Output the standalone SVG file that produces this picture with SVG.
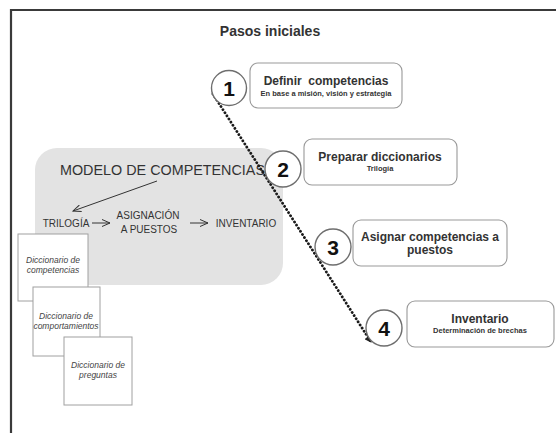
<svg xmlns="http://www.w3.org/2000/svg" width="556" height="433" viewBox="0 0 556 433">
<style>
text{font-family:"Liberation Sans",Arial,sans-serif;}
.frame{fill:none;stroke:#3a3a3a;stroke-width:2.2;}
.title{font-size:14px;font-weight:bold;fill:#333;text-anchor:middle;}
.circ{fill:#fff;stroke:#6e6e6e;stroke-width:1.4;}
.num{font-size:21px;font-weight:bold;fill:#111;text-anchor:middle;}
.box{fill:#fff;stroke:#999;stroke-width:1.1;}
.bt{font-size:12px;font-weight:bold;fill:#333;text-anchor:middle;}
.bs{font-size:7.5px;font-weight:bold;fill:#333;text-anchor:middle;}
.model{fill:#e3e3e3;}
.mt{font-size:10px;fill:#333;text-anchor:middle;}
.dict{fill:#fff;stroke:#a0a0a0;stroke-width:1;}
.dt{font-size:8.5px;font-style:italic;fill:#444;text-anchor:middle;}
.thin{stroke:#333;stroke-width:1;fill:none;}
</style>
<defs>
<marker id="ah" markerWidth="8" markerHeight="8" refX="6" refY="4" orient="auto" markerUnits="userSpaceOnUse">
<path d="M0,0 L7,4 L0,8 Z" fill="#222"/>
</marker>
<marker id="oh" markerWidth="10" markerHeight="8" refX="8" refY="4" orient="auto" markerUnits="userSpaceOnUse">
<path d="M0,0.5 L8,4 L0,7.5" fill="none" stroke="#333" stroke-width="1"/>
</marker>
</defs>
<rect width="556" height="433" fill="#fff"/>
<path class="frame" d="M11,433 L11,10 L556,10"/>
<text class="title" x="270" y="36">Pasos iniciales</text>

<g id="modelo">
<rect class="model" x="35" y="148" width="248" height="137" rx="22"/>
<text x="60" y="175" font-size="15" fill="#333" textLength="205" lengthAdjust="spacingAndGlyphs">MODELO DE COMPETENCIAS</text>
<text class="mt" x="66" y="227">TRILOGÍA</text>
<text class="mt" x="148" y="219">ASIGNACIÓN</text>
<text class="mt" x="149" y="233">A PUESTOS</text>
<text class="mt" x="246" y="227">INVENTARIO</text>
</g>

<g id="dicc1">
<rect class="dict" x="18" y="234" width="70" height="67"/>
<text class="dt" x="53" y="263">Diccionario de</text>
<text class="dt" x="53" y="273">competencias</text>
</g>
<g id="dicc2">
<rect class="dict" x="33" y="287" width="67" height="69"/>
<text class="dt" x="66" y="319">Diccionario de</text>
<text class="dt" x="66" y="329">comportamientos</text>
</g>
<g id="dicc3">
<rect class="dict" x="64" y="337" width="68" height="68"/>
<text class="dt" x="98" y="368">Diccionario de</text>
<text class="dt" x="98" y="378">preguntas</text>
</g>

<g id="connectors">
<line class="thin" x1="157" y1="181" x2="73" y2="211" marker-end="url(#oh)"/>
<line class="thin" x1="92" y1="223" x2="110" y2="223" marker-end="url(#oh)"/>
<line class="thin" x1="190" y1="223" x2="208" y2="223" marker-end="url(#oh)"/>
<line x1="213" y1="94" x2="371" y2="342" stroke="#1a1a1a" stroke-width="2.8" stroke-linecap="round" stroke-dasharray="0.1 3.6" marker-end="url(#ah)"/>
</g>

<g id="paso1">
<circle class="circ" cx="229" cy="88" r="17.5"/>
<text class="num" x="229" y="96">1</text>
<rect class="box" x="250" y="63" width="152" height="45" rx="8"/>
<text class="bt" x="326" y="85" xml:space="preserve">Definir  competencias</text>
<text class="bs" x="326" y="96">En base a misión, visión y estrategia</text>
</g>
<g id="paso2">
<circle class="circ" cx="283" cy="169" r="18"/>
<text class="num" x="283" y="177">2</text>
<rect class="box" x="304" y="139" width="153" height="46" rx="8"/>
<text class="bt" x="380" y="161">Preparar diccionarios</text>
<text class="bs" x="380" y="171">Trilogía</text>
</g>
<g id="paso3">
<circle class="circ" cx="333" cy="247" r="18"/>
<text class="num" x="333" y="255">3</text>
<rect class="box" x="353" y="220" width="154" height="46" rx="8"/>
<text class="bt" x="430" y="241">Asignar competencias a</text>
<text class="bt" x="430" y="254">puestos</text>
</g>
<g id="paso4">
<circle class="circ" cx="384" cy="328" r="18"/>
<text class="num" x="384" y="336">4</text>
<rect class="box" x="407" y="301" width="147" height="46" rx="8"/>
<text class="bt" x="480" y="323">Inventario</text>
<text class="bs" x="480" y="333">Determinación de brechas</text>
</g>
</svg>
